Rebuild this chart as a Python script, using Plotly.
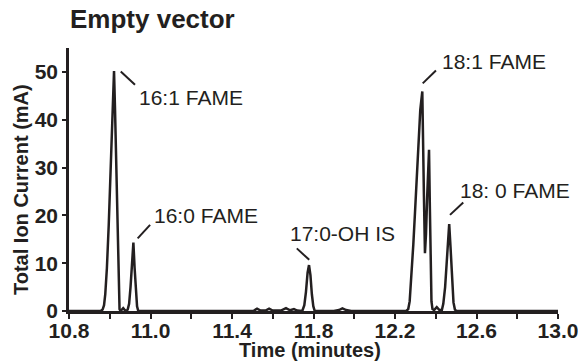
import plotly.graph_objects as go

# Chromatogram trace (time in minutes, total ion current in mA)
time_min = [10.60, 10.70, 10.755, 10.765, 10.772, 10.778, 10.786, 10.795, 10.805, 10.814,
            10.821, 10.826, 10.832, 10.837, 10.841, 10.844, 10.848, 10.853, 10.860, 10.866,
            10.872, 10.880, 10.888, 10.895, 10.902, 10.909, 10.916, 10.922, 10.928, 10.934,
            10.940, 11.00, 11.505, 11.523, 11.540, 11.565, 11.582, 11.600, 11.640, 11.665,
            11.685, 11.704, 11.720, 11.745, 11.755, 11.763, 11.771, 11.778, 11.785, 11.792,
            11.799, 11.806, 11.900, 11.925, 11.942, 11.960, 11.985, 12.255, 12.265, 12.272,
            12.280, 12.290, 12.298, 12.306, 12.314, 12.324, 12.334, 12.338, 12.342, 12.347,
            12.352, 12.358, 12.367, 12.371, 12.375, 12.379, 12.384, 12.392, 12.405, 12.418,
            12.430, 12.437, 12.446, 12.455, 12.466, 12.473, 12.480, 12.487, 12.494, 12.502,
            12.80, 13.00]
current_ma = [0, 0, 0, 0.3, 1.2, 3.5, 9, 18, 30, 42,
              50.2, 42, 30, 18, 8, 2.5, 0.4, 0, 0.3, 0.6,
              0.3, 0, 0.3, 1.5, 5, 10, 14.3, 9, 4, 1,
              0, 0, 0, 0.5, 0.1, 0.1, 0.5, 0.1, 0.1, 0.6,
              0.15, 0.4, 0.1, 0, 1.2, 4, 8, 9.6, 7.5, 3.5,
              1, 0, 0, 0.2, 0.55, 0.2, 0, 0, 0.4, 2,
              6.5, 14, 20.5, 28, 34.3, 42, 45.9, 38, 24, 12.1,
              16, 24, 33.7, 22, 8, 2, 0.4, 0.2, 0.8, 0.2,
              0.2, 1.5, 5, 11.5, 18.2, 13, 6, 1.8, 0.3, 0,
              0, 0]

# Peak labels
label_text = ["16:1 FAME", "16:0 FAME", "17:0-OH IS", "18:1 FAME", "18: 0 FAME"]
label_x = [10.934, 11.006, 11.675, 12.421, 12.509]
label_y = [44.6, 19.9, 16.3, 52.1, 25.3]
# Leader lines (start/end in data units)
lead_x0 = [10.854, 10.937, 11.718, 12.336, 12.470]
lead_y0 = [50.1, 15.2, 13.1, 47.6, 20.1]
lead_x1 = [10.924, 10.998, 11.779, 12.401, 12.535]
lead_y1 = [47.3, 18.0, 10.7, 50.3, 22.7]

# Axis ticks (labels as printed in the figure)
x_tickvals = [10.6, 11.0, 11.4, 11.8, 12.2, 12.6, 13.0]
x_ticktext = ["10.8", "11.0", "11.4", "11.8", "12.2", "12.6", "13.0"]
x_minorvals = [10.8, 11.2, 11.6, 12.0, 12.4, 12.8]
y_tickvals = [0, 10, 20, 30, 40, 50]

INK = "#231F20"
FONT = "Liberation Sans, Arial, Helvetica, sans-serif"

fig = go.Figure()
fig.add_trace(go.Scatter(x=time_min, y=current_ma, mode="lines",
                         line=dict(color=INK, width=2.5), hoverinfo="x+y",
                         showlegend=False))

for t, lx, ly in zip(label_text, label_x, label_y):
    fig.add_annotation(x=lx, y=ly, xref="x", yref="y", text=t, showarrow=False,
                       xanchor="left", yanchor="middle",
                       font=dict(family=FONT, size=21, color=INK))
for x0, y0, x1, y1 in zip(lead_x0, lead_y0, lead_x1, lead_y1):
    fig.add_shape(type="line", xref="x", yref="y", x0=x0, y0=y0, x1=x1, y1=y1,
                  line=dict(color=INK, width=2))

# Axis titles
fig.add_annotation(x=(310 - 69) / 489, y=(311 - 350) / 263, xref="paper", yref="paper",
                   text="Time (minutes)", showarrow=False, xanchor="center", yanchor="middle",
                   font=dict(family=FONT, size=20, color=INK, weight="bold"))
fig.add_annotation(x=(21 - 69) / 489, y=(311 - 190) / 263, xref="paper", yref="paper",
                   text="Total Ion Current (mA)", showarrow=False, textangle=-90,
                   xanchor="center", yanchor="middle",
                   font=dict(family=FONT, size=20, color=INK, weight="bold"))

fig.update_layout(
    width=578, height=363,
    margin=dict(l=69, r=20, t=48, b=52, autoexpand=False),
    paper_bgcolor="white", plot_bgcolor="white",
    title=dict(text="Empty vector", x=70 / 578, xanchor="left",
               y=1 - 19 / 363, yanchor="middle", yref="container",
               font=dict(family=FONT, size=26, color=INK, weight="bold")),
    font=dict(family=FONT, color=INK),
)
fig.update_xaxes(range=[10.6, 13.0], showgrid=False, zeroline=False, automargin=False,
                 showline=True, linecolor=INK, linewidth=2.5,
                 ticks="outside", ticklen=5, tickwidth=2, tickcolor=INK,
                 tickmode="array", tickvals=x_tickvals, ticktext=x_ticktext,
                 ticklabeloverflow="allow", ticklabelstandoff=-6,
                 minor=dict(tickmode="array", tickvals=x_minorvals, ticks="outside",
                            ticklen=5, tickwidth=2, tickcolor=INK),
                 tickfont=dict(family=FONT, size=21, color=INK, weight="bold"))
fig.update_yaxes(range=[0, 55], showgrid=False, zeroline=False, automargin=False,
                 showline=True, linecolor=INK, linewidth=2.5,
                 ticks="outside", ticklen=4, tickwidth=2, tickcolor=INK,
                 tickmode="array", tickvals=y_tickvals, ticklabeloverflow="allow",
                 tickfont=dict(family=FONT, size=21, color=INK, weight="bold"))

fig.write_html("out.html", config={"displayModeBar": False},
               post_script="document.body.style.margin='0';document.body.style.overflow='hidden';")
